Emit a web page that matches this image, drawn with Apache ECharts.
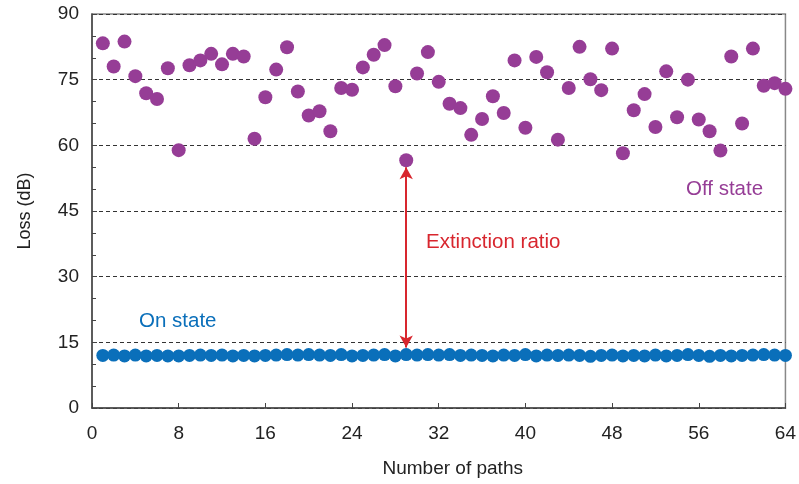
<!DOCTYPE html>
<html>
<head>
<meta charset="utf-8">
<script src="https://cdn.jsdelivr.net/npm/echarts@6/dist/echarts.min.js"></script>
<style>
  html, body { margin: 0; padding: 0; background: #fff; }
  #chart { width: 799px; height: 484px; }
</style>
</head>
<body>
<div id="chart"></div>
<script>
// 数据
var paths = [];
for (var i = 1; i <= 64; i++) paths.push(i);

var offState = [
    83.3, 78.0, 83.7, 75.8, 71.9, 70.6, 77.6, 58.9, 78.3, 79.4,
    80.9, 78.5, 80.9, 80.3, 61.5, 71.0, 77.3, 82.4, 72.3, 66.8,
    67.8, 63.2, 73.1, 72.7, 77.8, 80.7, 82.9, 73.5, 56.6, 76.4,
    81.3, 74.5, 69.5, 68.5, 62.4, 66.0, 71.2, 67.4, 79.4, 64.0,
    80.2, 76.7, 61.3, 73.1, 82.5, 75.1, 72.6, 82.1, 58.2, 68.0,
    71.7, 64.2, 76.9, 66.4, 75.0, 65.9, 63.2, 58.8, 80.3, 65.0,
    82.1, 73.6, 74.2, 72.9
];

var onState = [
    12.0, 12.1, 11.9, 12.1, 11.9, 12.0, 11.9, 11.9, 12.0, 12.1,
    12.0, 12.1, 11.9, 12.0, 11.9, 12.0, 12.1, 12.2, 12.1, 12.2,
    12.1, 12.0, 12.2, 11.9, 12.0, 12.1, 12.2, 11.9, 12.2, 12.1,
    12.2, 12.1, 12.2, 12.0, 12.1, 12.0, 11.9, 12.1, 12.0, 12.2,
    11.9, 12.1, 12.0, 12.1, 12.0, 11.8, 12.0, 12.1, 11.9, 12.0,
    11.9, 12.1, 11.9, 12.0, 12.2, 12.0, 11.8, 12.0, 11.9, 12.0,
    12.1, 12.2, 12.1, 12.0
];

// 消光比箭头 [x, y起点, y终点]
var arrowX = 29;
var arrowFrom = 13.8;
var arrowTo = 55.0;

var purple = '#963d96';
var blue = '#0a6fba';
var red = '#d8262e';

var offData = [], onData = [];
for (var i = 0; i < paths.length; i++) {
    offData.push([paths[i], offState[i]]);
    onData.push([paths[i], onState[i]]);
}

var chart = echarts.init(document.getElementById('chart'));
var option = {
    animation: false,
    backgroundColor: '#fff',
    grid: { left: 92, right: 12, top: 14, bottom: 76, show: true, borderColor: '#888', borderWidth: 1.5 },
    xAxis: {
        type: 'value',
        min: 0, max: 64, interval: 8,
        name: 'Number of paths',
        nameLocation: 'middle',
        nameGap: 51,
        nameTextStyle: { fontFamily: 'Liberation Sans', fontSize: 19, color: '#222', padding: [0, 0, 0, 28] },
        axisLine: { lineStyle: { color: '#444', width: 1.5 } },
        axisTick: { inside: true, length: 5, lineStyle: { color: '#444' } },
        axisLabel: { margin: 16, fontFamily: 'Liberation Sans', fontSize: 19, color: '#222' },
        splitLine: { show: false }
    },
    yAxis: {
        type: 'value',
        min: 0, max: 90, interval: 15,
        name: 'Loss (dB)',
        nameLocation: 'middle',
        nameGap: 58,
        nameTextStyle: { fontFamily: 'Liberation Sans', fontSize: 18, color: '#222' },
        axisLine: { show: true, lineStyle: { color: '#444', width: 1.5 } },
        axisTick: { show: true, inside: true, length: 5, lineStyle: { color: '#444' } },
        minorTick: { show: true, splitNumber: 3, length: 4, lineStyle: { color: '#444' } },
        axisLabel: { margin: 13, fontFamily: 'Liberation Sans', fontSize: 19, color: '#222' },
        splitLine: { show: true, lineStyle: { type: [4, 3], color: '#333', width: 1 } }
    },
    series: [
        {
            name: 'Off state',
            type: 'scatter',
            data: offData,
            symbol: 'circle',
            symbolSize: 14,
            itemStyle: { color: purple, opacity: 1 },
            markLine: {
                silent: true,
                symbol: ['arrow', 'arrow'],
                symbolSize: [10, 12],
                label: { show: false },
                lineStyle: { color: red, width: 2, type: 'solid' },
                data: [[
                    { coord: [arrowX, arrowFrom] },
                    { coord: [arrowX, arrowTo] }
                ]]
            }
        },
        {
            name: 'On state',
            type: 'line',
            data: onData,
            symbol: 'circle',
            symbolSize: 13,
            showSymbol: true,
            itemStyle: { color: blue, opacity: 1 },
            lineStyle: { color: blue, width: 2 },
            z: 3
        }
    ],
    graphic: [
        { type: 'text', left: 686, top: 179, style: { text: 'Off state', fill: purple, font: '20.5px Liberation Sans' } },
        { type: 'text', left: 426, top: 232, style: { text: 'Extinction ratio', fill: red, font: '20.5px Liberation Sans' } },
        { type: 'text', left: 139, top: 311, style: { text: 'On state', fill: blue, font: '20.5px Liberation Sans' } }
    ]
};
chart.setOption(option);
</script>
</body>
</html>
